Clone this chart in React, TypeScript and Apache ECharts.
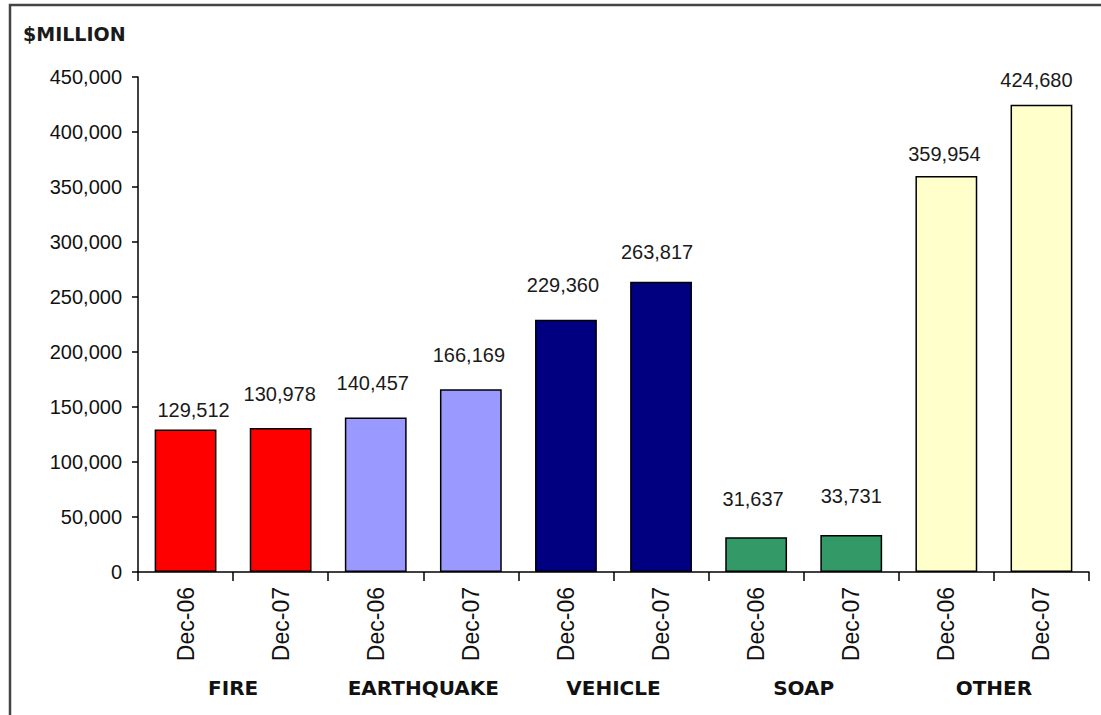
import React, { useEffect, useRef } from "react";
import * as echarts from "echarts";

const periods = ["Dec-06", "Dec-07", "Dec-06", "Dec-07", "Dec-06", "Dec-07", "Dec-06", "Dec-07", "Dec-06", "Dec-07"];
const groups = ["FIRE", "EARTHQUAKE", "VEHICLE", "SOAP", "OTHER"];
const values = [129512, 130978, 140457, 166169, 229360, 263817, 31637, 33731, 359954, 424680];
const groupColors = ["#FF0000", "#9999FF", "#000080", "#339966", "#FFFFCC"];
const yTicks = { min: 0, max: 450000, interval: 50000 };
// label placement tweaks (style only), [dx, dy] in px
const labelOffsets: [number, number][] = [
  [8, -10], [-1, -24], [-3, -24], [-2, -24], [-3, -25],
  [-4, -20], [-3, -28], [0, -29], [-2, -12], [-5, -15],
];

const fmt = (v: number) => v.toLocaleString("en-US");

export default function App() {
  const ref = useRef<HTMLDivElement>(null);
  useEffect(() => {
    if (!ref.current) return;
    const chart = echarts.init(ref.current, undefined, { renderer: "svg" });
    const textFont = '"Liberation Sans", Arial, sans-serif';
    const boldFont = '"DejaVu Sans", Verdana, sans-serif';
    chart.setOption({
      animation: false,
      backgroundColor: "#ffffff",
      grid: { left: 138, right: 12, top: 77, bottom: 143, containLabel: false },
      xAxis: [
        {
          type: "category",
          data: periods,
          position: "bottom",
          axisLine: { show: true, lineStyle: { color: "#000", width: 1.5 } },
          axisTick: { show: true, interval: 0, length: 9, lineStyle: { color: "#000", width: 1.5 } },
          axisLabel: {
            interval: 0,
            rotate: 90,
            margin: 15,
            fontSize: 23,
            fontFamily: textFont,
            color: "#111",
          },
          splitLine: { show: false },
        },
        {
          type: "category",
          data: groups,
          position: "bottom",
          axisLine: { show: false },
          axisTick: { show: false },
          axisLabel: {
            interval: 0,
            margin: 106,
            fontSize: 20,
            fontWeight: "bold",
            fontFamily: boldFont,
            color: "#111",
          },
          splitLine: { show: false },
        },
      ],
      yAxis: {
        type: "value",
        min: yTicks.min,
        max: yTicks.max,
        interval: yTicks.interval,
        axisLine: { show: true, lineStyle: { color: "#000", width: 1.5 } },
        axisTick: { show: true, length: 6, lineStyle: { color: "#000", width: 1.5 } },
        splitLine: { show: false },
        axisLabel: {
          margin: 16,
          fontSize: 20,
          fontFamily: textFont,
          color: "#111",
          formatter: (v: number) => fmt(v),
        },
      },
      series: [
        {
          type: "bar",
          xAxisIndex: 0,
          barWidth: "65%",
          data: values.map((v, i) => ({
            value: v,
            itemStyle: {
              color: groupColors[Math.floor(i / 2)],
              borderColor: "#000",
              borderWidth: 1.5,
            },
            label: { offset: labelOffsets[i] },
          })),
          label: {
            show: true,
            position: "top",
            distance: 0,
            fontSize: 20,
            fontFamily: textFont,
            color: "#1a1a1a",
            formatter: (p: any) => fmt(p.value),
          },
        },
      ],
      graphic: [
        {
          type: "text",
          left: 23,
          top: 24,
          style: {
            text: "$MILLION",
            font: 'bold 19px "DejaVu Sans", Verdana, sans-serif',
            fill: "#1a1a1a",
          },
        },
        {
          type: "rect",
          shape: { x: 10, y: 5, width: 1140, height: 760 },
          style: { fill: "none", stroke: "#444", lineWidth: 2.5 },
          z: 100,
        },
      ],
    });
    return () => chart.dispose();
  }, []);
  return (
    <div
      ref={ref}
      style={{ position: "fixed", left: 0, top: 0, width: 1101, height: 715 }}
    />
  );
}
